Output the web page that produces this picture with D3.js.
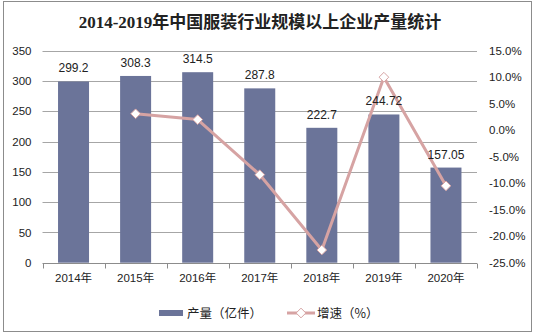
<!DOCTYPE html>
<html>
<head>
<meta charset="utf-8">
<script src="https://cdn.jsdelivr.net/npm/d3@7"></script>
<style>
  html, body { margin: 0; padding: 0; background: #fff; }
  svg { display: block; }
</style>
</head>
<body>
<svg id="chart" width="536" height="336"></svg>
<script>
// Output of garment enterprises above designated size, 2014-2020
const years = ["2014年", "2015年", "2016年", "2017年", "2018年", "2019年", "2020年"];
const output = [299.2, 308.3, 314.5, 287.8, 222.7, 244.72, 157.05];
const outputLabels = ["299.2", "308.3", "314.5", "287.8", "222.7", "244.72", "157.05"];
const growth = [null, 3.1, 2.0, -8.4, -22.6, 10.0, -10.5];
const leftTicks = [0, 50, 100, 150, 200, 250, 300, 350];
const rightTicks = [-25, -20, -15, -10, -5, 0, 5, 10, 15];

const svg = d3.select("#chart");
const latin = "Arial, 'Liberation Sans', 'Noto Sans CJK SC', sans-serif";
const cjk = "'Noto Sans CJK SC', sans-serif";

const barColor = "#6b7499";
const lineColor = "#d6a3a3";
const gridColor = "#a6a6a6";

const plot = { left: 42.5, right: 477, top: 50.7, bottom: 262.7 };

// outer frame
svg.append("rect")
  .attr("x", 3.5).attr("y", 1.5).attr("width", 528).attr("height", 330)
  .attr("fill", "none").attr("stroke", "#8c8c8c").attr("stroke-width", 1);

// title
svg.append("text")
  .attr("x", 260).attr("y", 28)
  .attr("text-anchor", "middle")
  .attr("font-family", "'Liberation Serif', 'Noto Sans CJK SC', serif")
  .attr("font-weight", "bold")
  .attr("font-size", 17)
  .attr("fill", "#222")
  .text("2014-2019年中国服装行业规模以上企业产量统计");

const x = d3.scaleBand().domain(years).range([plot.left, plot.right]).paddingInner(0).paddingOuter(0);
const y = d3.scaleLinear().domain([0, 350]).range([plot.bottom, plot.top]);
const y2 = d3.scaleLinear().domain([-25, 15]).range([plot.bottom, plot.top]);

// horizontal gridlines
svg.append("g")
  .selectAll("line")
  .data(leftTicks.filter(d => d > 0))
  .join("line")
  .attr("x1", plot.left).attr("x2", plot.right)
  .attr("y1", d => Math.round(y(d)) + 0.5).attr("y2", d => Math.round(y(d)) + 0.5)
  .attr("stroke", gridColor).attr("stroke-width", 1);

// left axis
const leftAxis = svg.append("g")
  .attr("transform", `translate(${plot.left},0)`)
  .call(d3.axisLeft(y).tickValues(leftTicks).tickSize(0).tickPadding(11));
leftAxis.select(".domain").remove();
leftAxis.selectAll("text")
  .attr("font-family", latin).attr("font-size", 11.5).attr("fill", "#222");

// right axis
const rightAxis = svg.append("g")
  .attr("transform", `translate(${plot.right},0)`)
  .call(d3.axisRight(y2).tickValues(rightTicks).tickSize(0).tickPadding(12)
    .tickFormat(d => d.toFixed(1) + "%"));
rightAxis.select(".domain").remove();
rightAxis.selectAll("text")
  .attr("font-family", latin).attr("font-size", 11.5).attr("fill", "#222");

// bars
const barW = 31;
svg.append("g")
  .selectAll("rect")
  .data(years)
  .join("rect")
  .attr("x", (d) => x(d) + x.bandwidth() / 2 - barW / 2)
  .attr("y", (d, i) => y(output[i]))
  .attr("width", barW)
  .attr("height", (d, i) => y(0) - y(output[i]))
  .attr("fill", barColor);

// category axis
const bottom = svg.append("g").attr("transform", `translate(0,${Math.round(plot.bottom) + 0.5})`);
bottom.append("line")
  .attr("x1", plot.left).attr("x2", plot.right)
  .attr("stroke", "#8c8c8c");
bottom.selectAll("line.tick")
  .data(d3.range(years.length + 1))
  .join("line")
  .attr("class", "tick")
  .attr("x1", i => Math.round(plot.left + i * x.step()) + 0.5)
  .attr("x2", i => Math.round(plot.left + i * x.step()) + 0.5)
  .attr("y1", 0).attr("y2", 5)
  .attr("stroke", "#8c8c8c");
bottom.selectAll("text")
  .data(years)
  .join("text")
  .attr("x", d => x(d) + x.bandwidth() / 2)
  .attr("y", 18)
  .attr("text-anchor", "middle")
  .attr("font-family", latin).attr("font-size", 11.5).attr("fill", "#222")
  .text(d => d);

// growth line
const pts = years.map((d, i) => ({ year: d, v: growth[i] })).filter(p => p.v !== null);
const line = d3.line()
  .x(p => x(p.year) + x.bandwidth() / 2)
  .y(p => y2(p.v));
svg.append("path")
  .datum(pts)
  .attr("d", line)
  .attr("fill", "none")
  .attr("stroke", lineColor)
  .attr("stroke-width", 3)
  .attr("stroke-linejoin", "round");

const diamond = d3.symbol().type(d3.symbolDiamond2).size(60);
svg.append("g")
  .selectAll("path")
  .data(pts)
  .join("path")
  .attr("transform", p => `translate(${x(p.year) + x.bandwidth() / 2},${y2(p.v)})`)
  .attr("d", diamond)
  .attr("fill", "#fff")
  .attr("stroke", lineColor)
  .attr("stroke-width", 1);

// bar value labels, drawn above the line
svg.append("g")
  .selectAll("text")
  .data(years)
  .join("text")
  .attr("x", d => x(d) + x.bandwidth() / 2)
  .attr("y", (d, i) => y(output[i]) - 9)
  .attr("text-anchor", "middle")
  .attr("font-family", latin).attr("font-size", 12).attr("fill", "#222")
  .text((d, i) => outputLabels[i]);

// legend
const legend = svg.append("g").attr("transform", "translate(0,313)");
legend.append("rect")
  .attr("x", 159).attr("y", -3).attr("width", 24).attr("height", 6)
  .attr("fill", barColor);
legend.append("text")
  .attr("x", 187).attr("y", 5)
  .attr("font-family", cjk).attr("font-size", 12.5).attr("fill", "#222")
  .text("产量（亿件）");
legend.append("line")
  .attr("x1", 287).attr("x2", 315).attr("y1", 0).attr("y2", 0)
  .attr("stroke", lineColor).attr("stroke-width", 3);
legend.append("path")
  .attr("transform", "translate(301,0)")
  .attr("d", diamond)
  .attr("fill", "#fff").attr("stroke", lineColor).attr("stroke-width", 1);
legend.append("text")
  .attr("x", 317).attr("y", 5)
  .attr("font-family", cjk).attr("font-size", 12.5).attr("fill", "#222")
  .text("增速（%）");
</script>
</body>
</html>
